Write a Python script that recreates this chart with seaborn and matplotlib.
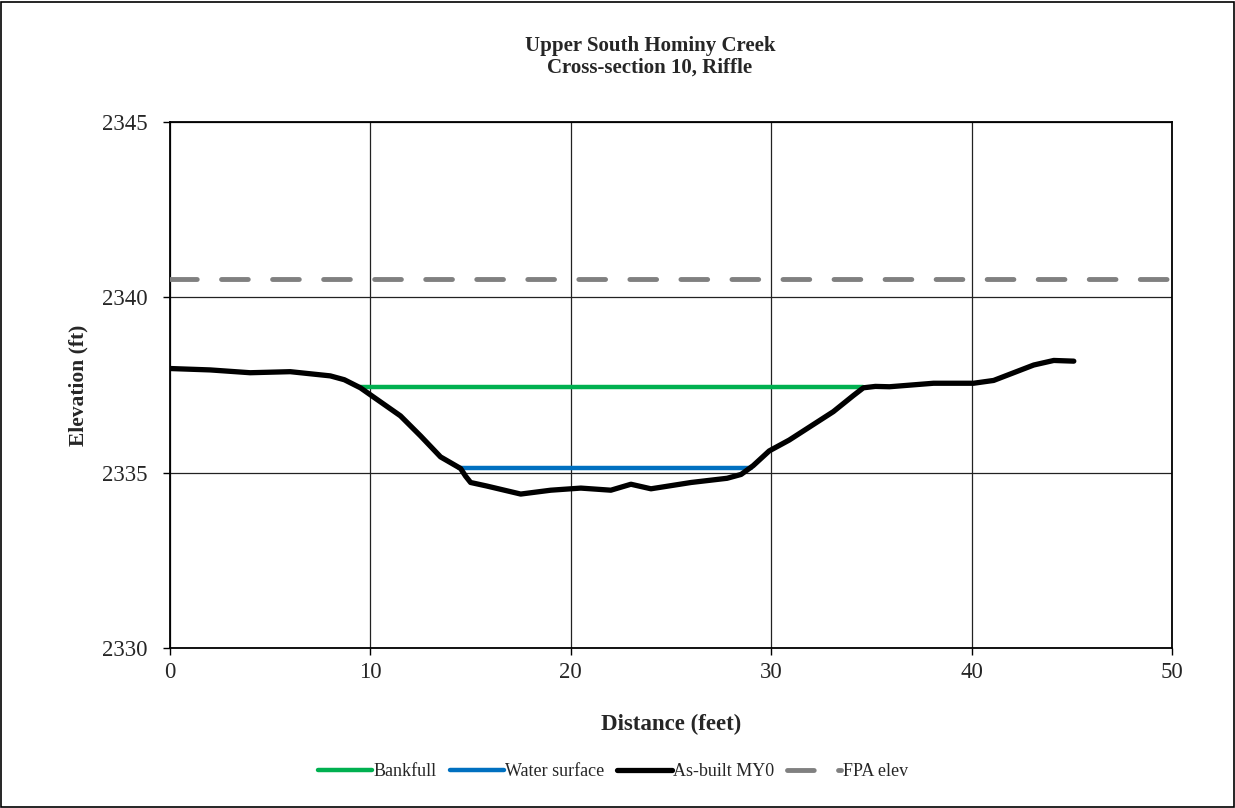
import matplotlib
matplotlib.use("Agg")
import matplotlib.pyplot as plt
import seaborn as sns
import pandas as pd
from matplotlib.patches import Rectangle

# ---- data ----
station = [0, 2, 4, 6, 8, 8.7, 9.5, 10, 11.5, 12.5, 13.5, 14.5, 14.75, 15, 15.8, 17.5,
           19, 20.5, 22, 23, 24, 26, 27.8, 28.5, 29.1, 29.9, 30.9, 33.1, 34.1, 34.6,
           35.2, 35.9, 38.1, 40.1, 41.1, 43.1, 44.1, 45.1]
elevation = [2337.97, 2337.93, 2337.85, 2337.88, 2337.76, 2337.65, 2337.42, 2337.22,
             2336.62, 2336.05, 2335.45, 2335.12, 2334.9, 2334.72, 2334.62, 2334.39,
             2334.5, 2334.56, 2334.5, 2334.67, 2334.54, 2334.72, 2334.84, 2334.95,
             2335.2, 2335.62, 2335.93, 2336.74, 2337.2, 2337.42, 2337.46, 2337.45,
             2337.55, 2337.55, 2337.63, 2338.07, 2338.2, 2338.18]
bankfull_x = [9.5, 34.6]
bankfull_y = [2337.45, 2337.45]
water_x = [14.4, 29.0]
water_y = [2335.14, 2335.14]
fpa_x = [0, 50]
fpa_y = [2340.52, 2340.52]

title = "Upper South Hominy Creek\nCross-section 10, Riffle"
x_ticks = [0, 10, 20, 30, 40, 50]
y_ticks = [2330, 2335, 2340, 2345]

sns.set_theme(style="white")
plt.rcParams["font.family"] = ["Liberation Serif", "DejaVu Serif"]

fig = plt.figure(figsize=(12.35, 8.08), dpi=100)
ax = fig.add_axes([170/1235, 1-648/808, (1172-170)/1235, (648-122)/808])

bf = pd.DataFrame({"x": bankfull_x, "y": bankfull_y})
ws = pd.DataFrame({"x": water_x, "y": water_y})
ab = pd.DataFrame({"x": station, "y": elevation})
fp = pd.DataFrame({"x": fpa_x, "y": fpa_y})

sns.lineplot(data=bf, x="x", y="y", ax=ax, color="#00B050", lw=3.2, sort=False,
             label="Bankfull", zorder=3)
sns.lineplot(data=ws, x="x", y="y", ax=ax, color="#0070C0", lw=3.2, sort=False,
             label="Water surface", zorder=3)
sns.lineplot(data=ab, x="x", y="y", ax=ax, color="black", lw=3.8, sort=False,
             label="As-built MY0", zorder=4)
sns.lineplot(data=fp, x="x", y="y", ax=ax, color="#808080", lw=3.5, sort=False,
             label="FPA elev", zorder=3)
ax.lines[-1].set_dashes([5.5, 5.0])
ax.lines[-1].set_dash_capstyle("round")
for ln in ax.lines[:3]:
    ln.set_solid_capstyle("round")
    ln.set_solid_joinstyle("round")

ax.set_xlim(0, 50)
ax.set_ylim(2330, 2345)
ax.set_xticks(x_ticks)
ax.set_yticks(y_ticks)
ax.tick_params(axis="both", direction="out", length=5, width=1, color="black",
               labelsize=16.5, bottom=True, left=True)
ax.tick_params(axis="y", pad=11)
ax.tick_params(axis="x", pad=5)
ax.grid(True, color="#222222", lw=0.9)
ax.set_axisbelow(True)
for s in ax.spines.values():
    s.set_color("black")
    s.set_linewidth(1.3)

ax.set_xlabel("Distance (feet)", fontsize=16.5, fontweight="bold", labelpad=22)
ax.set_ylabel("Elevation (ft)", fontsize=15.5, fontweight="bold", labelpad=10)
fig.text(650/1235, 1-57/808, title, ha="center", va="center", fontsize=15,
         fontweight="bold", linespacing=1.1)

handles, labels = ax.get_legend_handles_labels()
if ax.legend_:
    ax.legend_.remove()
fig.legend(handles, labels, loc="center", bbox_to_anchor=(613/1235, 1-772/808),
           ncol=4, frameon=False, fontsize=13, handlelength=3.0, handletextpad=0.1,
           columnspacing=0.7)

fig.patches.append(Rectangle((0.001, 0.001), 0.998, 0.997, transform=fig.transFigure,
                             fill=False, edgecolor="black", lw=1.2))

fig.savefig("out.png", dpi=100, facecolor="white")
